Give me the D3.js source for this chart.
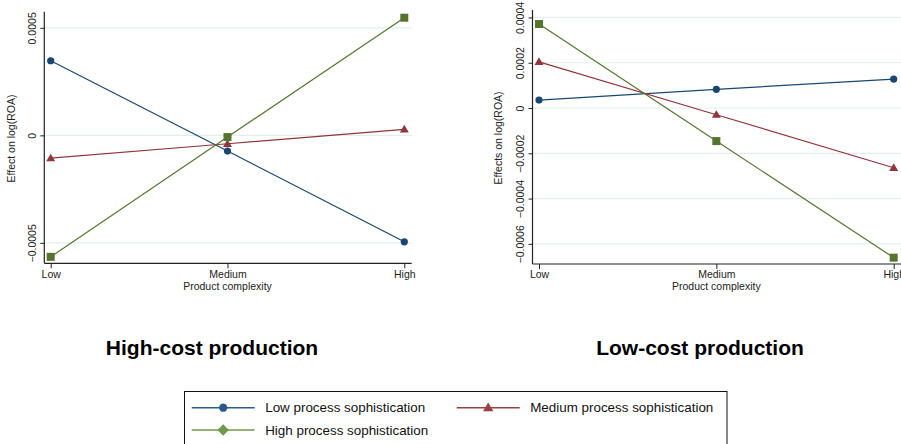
<!DOCTYPE html>
<html>
<head>
<meta charset="utf-8">
<script src="https://cdn.jsdelivr.net/npm/d3@7"></script>
<style>
  body { margin: 0; background: #fff; }
  svg { display: block; font-family: "Liberation Sans", Arial, sans-serif; }
</style>
</head>
<body>
<svg id="chart" width="901" height="444"></svg>
<script>
// ---- Data ----
const categories = ["Low", "Medium", "High"];
const seriesNames = ["Low process sophistication", "Medium process sophistication", "High process sophistication"];
// High-cost production panel
const highCostLow    = [0.000347, -0.000073, -0.000495];
const highCostMedium = [-0.000106, -0.000039, 0.000028];
const highCostHigh   = [-0.000565, -0.000008, 0.000547];
// Low-cost production panel
const lowCostLow    = [0.0000353, 0.0000825, 0.000128];
const lowCostMedium = [0.000204, -0.0000296, -0.000264];
const lowCostHigh   = [0.000371, -0.000146, -0.000661];
// Tick values
const leftTicks  = [-0.0005, 0, 0.0005];
const rightTicks = [-0.0006, -0.0004, -0.0002, 0, 0.0002, 0.0004];
const panelTitles = ["High-cost production", "Low-cost production"];
const yTitles = ["Effect on log(ROA)", "Effects on log(ROA)"];
const xTitle = "Product complexity";

// ---- Styles ----
const colors = ["#1a476f", "#90353b", "#55752f"];
const legendColors = ["#2a5a85", "#9a3f45", "#6f9a4d"];
const shapes = ["circle", "triangle", "square"];

const svg = d3.select("#chart");

function fmt(v) {
  if (v === 0) return "0";
  return d3.format(".4~f")(v);
}

function drawPanel(cfg) {
  const g = svg.append("g");
  const x = d3.scalePoint().domain(categories).range(cfg.xRange).padding(0);
  const y = d3.scaleLinear().domain(cfg.yDomain).range([cfg.bottom, cfg.top]);

  // gridlines
  g.selectAll("line.grid").data(cfg.ticks).enter().append("line")
    .attr("x1", cfg.axisX).attr("x2", cfg.gridRight)
    .attr("y1", d => y(d)).attr("y2", d => y(d))
    .attr("stroke", "#e3eded").attr("stroke-width", 1.2);

  // y axis
  const yAxis = d3.axisLeft(y).tickValues(cfg.ticks).tickSize(4).tickFormat(fmt);
  const ya = g.append("g").attr("transform", `translate(${cfg.axisX},0)`).call(yAxis);
  ya.select(".domain").attr("d", `M0,${cfg.top}V${cfg.bottom}`).attr("stroke", "#222").attr("stroke-width", 1.2);
  ya.selectAll(".tick line").attr("stroke", "#222");
  ya.selectAll(".tick text")
    .attr("font-size", 10.5).attr("fill", "#222")
    .attr("text-anchor", "middle")
    .attr("x", null).attr("dy", null)
    .attr("transform", `translate(${cfg.tickLabelX - cfg.axisX},0) rotate(-90)`)
    .attr("dy", "0.35em");

  // x axis
  const xAxis = d3.axisBottom(x).tickSize(5).tickFormat(d => d);
  const xa = g.append("g").attr("transform", `translate(0,${cfg.bottom})`).call(xAxis);
  xa.select(".domain").attr("d", `M${cfg.axisX},0H${cfg.gridRight}`).attr("stroke", "#222").attr("stroke-width", 1.2);
  xa.selectAll(".tick line").attr("stroke", "#222");
  xa.selectAll(".tick text").attr("font-size", 10.5).attr("fill", "#222").attr("y", 7).attr("dy", "0.71em");

  // axis titles
  g.append("text")
    .attr("transform", `translate(${cfg.yTitleX},${(cfg.top + cfg.bottom) / 2 + 1}) rotate(-90)`)
    .attr("text-anchor", "middle").attr("dy", "0.35em")
    .attr("font-size", 10.5).attr("fill", "#222")
    .text(cfg.yTitle);
  g.append("text")
    .attr("x", x("Medium")).attr("y", 290)
    .attr("text-anchor", "middle")
    .attr("font-size", 10.5).attr("fill", "#222")
    .text(xTitle);

  // series
  const line = d3.line().x((d, i) => x(categories[i])).y(d => y(d));
  cfg.series.forEach((vals, si) => {
    g.append("path").datum(vals)
      .attr("d", line).attr("fill", "none")
      .attr("stroke", colors[si]).attr("stroke-width", 1.2);
    vals.forEach((v, i) => drawMarker(g, shapes[si], x(categories[i]), y(v), colors[si], 1));
  });

  // panel title
  svg.append("text")
    .attr("x", cfg.titleX).attr("y", 355)
    .attr("text-anchor", "middle")
    .attr("font-size", 21).attr("font-weight", "bold").attr("fill", "#000")
    .text(cfg.title);
}

function drawMarker(g, shape, cx, cy, color, scale) {
  const s = scale;
  if (shape === "circle") {
    g.append("circle").attr("cx", cx).attr("cy", cy).attr("r", 3.6 * s).attr("fill", color);
  } else if (shape === "square") {
    const h = 4 * s;
    g.append("rect").attr("x", cx - h).attr("y", cy - h).attr("width", 2 * h).attr("height", 2 * h).attr("fill", color);
  } else if (shape === "triangle") {
    const h = 4.5 * s;
    g.append("path").attr("d", `M${cx},${cy - h}L${cx + h},${cy + h * 0.7}L${cx - h},${cy + h * 0.7}Z`).attr("fill", color);
  } else if (shape === "diamond") {
    const h = 5 * s;
    g.append("path").attr("d", `M${cx},${cy - h}L${cx + h},${cy}L${cx},${cy + h}L${cx - h},${cy}Z`).attr("fill", color);
  }
}

drawPanel({
  xRange: [50.7, 404.3], yDomain: [-0.000595, 0.000575], top: 11.7, bottom: 263.3,
  axisX: 44.3, gridRight: 411.7, tickLabelX: 32, yTitleX: 11.5,
  ticks: leftTicks, series: [highCostLow, highCostMedium, highCostHigh],
  title: panelTitles[0], titleX: 212, yTitle: yTitles[0]
});
drawPanel({
  xRange: [539, 893.7], yDomain: [-0.000689, 0.000433], top: 10, bottom: 264,
  axisX: 532.5, gridRight: 905, tickLabelX: 520, yTitleX: 498,
  ticks: rightTicks, series: [lowCostLow, lowCostMedium, lowCostHigh],
  title: panelTitles[1], titleX: 700, yTitle: yTitles[1]
});

// ---- Legend ----
const lg = svg.append("g");
lg.append("rect").attr("x", 184.5).attr("y", 391.5).attr("width", 542.5).attr("height", 60)
  .attr("fill", "#fff").attr("stroke", "#111").attr("stroke-width", 1);
const legendItems = [
  { name: seriesNames[0], color: legendColors[0], shape: "circle", lx: 191.7, ly: 407.7 },
  { name: seriesNames[1], color: legendColors[1], shape: "triangle", lx: 456.7, ly: 407.7 },
  { name: seriesNames[2], color: legendColors[2], shape: "diamond", lx: 191.7, ly: 430 }
];
legendItems.forEach(it => {
  lg.append("line").attr("x1", it.lx).attr("x2", it.lx + 63).attr("y1", it.ly).attr("y2", it.ly)
    .attr("stroke", it.color).attr("stroke-width", 1.5);
  drawMarker(lg, it.shape, it.lx + 31.5, it.ly, it.color, 1.15);
  lg.append("text").attr("x", it.lx + 73.5).attr("y", it.ly).attr("dy", "0.35em")
    .attr("font-size", 13.4).attr("fill", "#111").text(it.name);
});
</script>
</body>
</html>
